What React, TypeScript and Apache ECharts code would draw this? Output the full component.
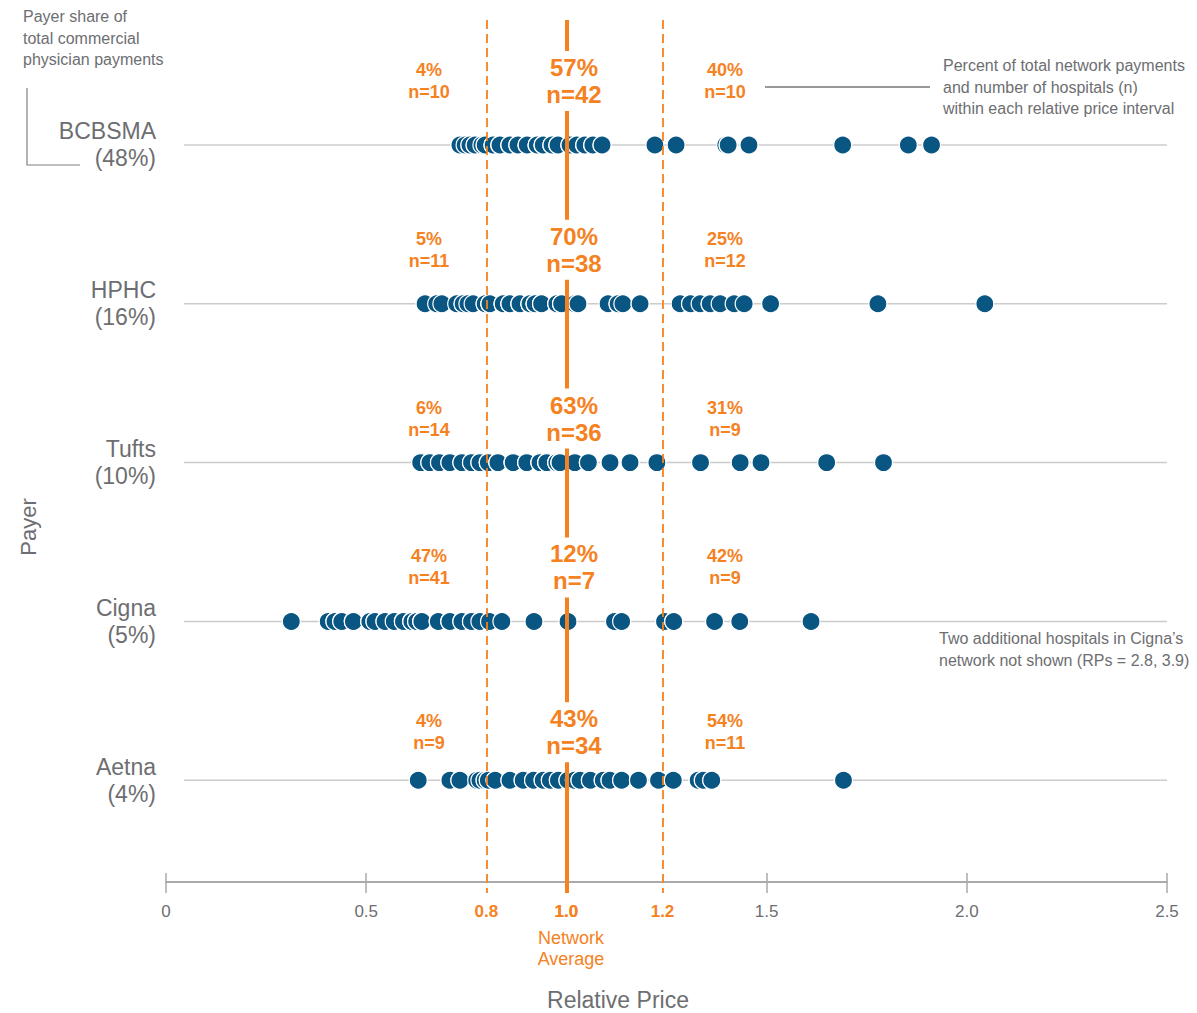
import React, { useEffect, useRef } from 'react';
import * as echarts from 'echarts';

// ---------- data ----------
const payers = ['BCBSMA', 'HPHC', 'Tufts', 'Cigna', 'Aetna'];
const payerShares = ['48%', '16%', '10%', '5%', '4%'];

// relative prices of each hospital in the payer's network (overlapping dots repeat values)
const bcbsmaRP = [
  0.734, 0.734, 0.747, 0.759, 0.759, 0.772, 0.772, 0.789, 0.797, 0.797,
  0.817, 0.817, 0.817, 0.834, 0.834, 0.834, 0.859, 0.859, 0.859, 0.879, 0.879, 0.879,
  0.902, 0.902, 0.902, 0.927, 0.927, 0.927, 0.942, 0.942, 0.942, 0.964, 0.964, 0.964,
  0.979, 0.979, 0.979, 1.009, 1.009, 1.009, 1.026, 1.026, 1.026, 1.046, 1.046, 1.046,
  1.066, 1.066, 1.066, 1.089, 1.089, 1.221,
  1.274, 1.398, 1.404, 1.404, 1.456, 1.456, 1.69, 1.69, 1.854, 1.912,
];
const hphcRP = [
  0.647, 0.647, 0.676, 0.689, 0.726, 0.742, 0.742, 0.754, 0.767, 0.797, 0.797,
  0.809, 0.809, 0.809, 0.842, 0.842, 0.842, 0.859, 0.859, 0.859, 0.884, 0.884, 0.884,
  0.909, 0.909, 0.909, 0.922, 0.922, 0.922, 0.938, 0.938, 0.938, 0.976, 0.976, 0.976,
  0.988, 0.988, 0.988, 1.021, 1.021, 1.029, 1.029, 1.104, 1.104, 1.129, 1.129, 1.141,
  1.184, 1.184,
  1.284, 1.31, 1.31, 1.334, 1.359, 1.359, 1.384, 1.419, 1.444, 1.51, 1.778, 2.045,
];
const tuftsRP = [
  0.636, 0.636, 0.659, 0.659, 0.683, 0.683, 0.709, 0.709, 0.739, 0.739, 0.763, 0.763, 0.784, 0.784,
  0.805, 0.805, 0.805, 0.829, 0.829, 0.829, 0.867, 0.867, 0.867, 0.901, 0.901, 0.901,
  0.934, 0.934, 0.934, 0.951, 0.951, 0.951, 0.976, 0.976, 0.976, 0.984, 0.984, 0.984,
  1.021, 1.021, 1.021, 1.055, 1.055, 1.055, 1.109, 1.109, 1.159, 1.159, 1.226, 1.226,
  1.335, 1.335, 1.434, 1.434, 1.486, 1.65, 1.65, 1.792, 1.792,
];
const cignaRP = [
  0.313, 0.405, 0.405, 0.405, 0.422, 0.422, 0.439, 0.439, 0.468, 0.468, 0.468,
  0.509, 0.509, 0.509, 0.522, 0.522, 0.547, 0.547, 0.57, 0.593, 0.593, 0.593,
  0.614, 0.614, 0.614, 0.626, 0.626, 0.639, 0.639, 0.639, 0.68, 0.68, 0.68,
  0.709, 0.709, 0.709, 0.739, 0.739, 0.763, 0.763, 0.784,
  0.808, 0.839, 0.919, 1.004, 1.004, 1.12, 1.138,
  1.245, 1.268, 1.268, 1.37, 1.37, 1.433, 1.611,
];
const cignaNotShownRP = [2.8, 3.9];
const aetnaRP = [
  0.63, 0.709, 0.709, 0.734, 0.734, 0.776, 0.784, 0.797, 0.797,
  0.805, 0.805, 0.822, 0.822, 0.859, 0.859, 0.892, 0.892, 0.918, 0.918, 0.942, 0.942,
  0.96, 0.96, 0.98, 0.98, 1.004, 1.004, 1.02, 1.02, 1.034, 1.034, 1.06, 1.06,
  1.092, 1.092, 1.109, 1.109, 1.138, 1.138, 1.18, 1.18, 1.23, 1.23,
  1.267, 1.267, 1.329, 1.329, 1.342, 1.342, 1.363, 1.363, 1.692, 1.692, 1.692,
];
const rpByPayer = [bcbsmaRP, hphcRP, tuftsRP, cignaRP, aetnaRP];

const belowPct = ['4%', '5%', '6%', '47%', '4%'];
const belowN = [10, 11, 14, 41, 9];
const withinPct = ['57%', '70%', '63%', '12%', '43%'];
const withinN = [42, 38, 36, 7, 34];
const abovePct = ['40%', '25%', '31%', '42%', '54%'];
const aboveN = [10, 12, 9, 9, 11];

const xTickValues = [0, 0.5, 1.0, 1.5, 2.0, 2.5];
// reference lines: position as drawn in the original, and its label
const refLines = [
  { at: 0.8, label: '0.8', dashed: true },
  { at: 1.0, label: '1.0', dashed: false },
  { at: 1.24, label: '1.2', dashed: true },
];

// ---------- style / layout ----------
const FONT = "'Liberation Sans', Arial, Helvetica, sans-serif";
const GREY = '#6d6e71';
const ORANGE = '#f5821f';
const BLUE = '#0a5683';
const BAND_LABEL_X = [0.657, 1.019, 1.396];
const BAND_LABEL_DY = [-64, -54, -44, -54, -48];
const ROW_LINE_START = 0.045;

export default function App() {
  const ref = useRef<HTMLDivElement>(null);

  useEffect(() => {
    const chart = echarts.init(ref.current!, null, { renderer: 'svg' });

    const xLabelFormatter = (v: number) => {
      const r = refLines.find((rl) => Math.abs(rl.at - v) < 1e-6);
      if (r) return `{o|${r.label}}`;
      return `{g|${v === 0 ? '0' : v.toFixed(1)}}`;
    };

    const rowLineSeries = payers.map((p, i) => ({
      type: 'line',
      name: 'row-' + p,
      data: [[ROW_LINE_START, i], [2.5, i]],
      symbol: 'none',
      silent: true,
      lineStyle: { color: '#cccccc', width: 1.5 },
      z: 1,
    }));

    const dotSeries = payers.map((p, i) => ({
      type: 'scatter',
      name: p,
      data: rpByPayer[i].map((v) => [v, i]),
      symbol: 'circle',
      symbolSize: 18,
      itemStyle: { color: BLUE, borderColor: '#ffffff', borderWidth: 1.2, opacity: 1 },
      z: 3,
    }));

    // [x, payer row, band (0 below, 1 within, 2 above)]
    const bandLabelData = payers.flatMap((p, i) => [0, 1, 2].map((b) => [BAND_LABEL_X[b], i, b]));
    const bandText = (row: number, band: number) => {
      if (band === 0) return `{s|${belowPct[row]}}\n{s|n=${belowN[row]}}`;
      if (band === 1) return `{b|${withinPct[row]}}\n{b|n=${withinN[row]}}`;
      return `{s|${abovePct[row]}}\n{s|n=${aboveN[row]}}`;
    };
    const richLabel = {
      s: { fill: ORANGE, fontSize: 18, fontWeight: 'bold', lineHeight: 22, fontFamily: FONT, align: 'center' },
      b: { fill: ORANGE, fontSize: 24, fontWeight: 'bold', lineHeight: 27, fontFamily: FONT, align: 'center' },
    };

    const option: any = {
      animation: false,
      backgroundColor: '#ffffff',
      textStyle: { fontFamily: FONT },
      grid: { left: 166, right: 30, top: 20, bottom: 120 },
      xAxis: [
        {
          type: 'value',
          min: 0,
          max: 2.5,
          interval: 0.5,
          offset: -11,
          position: 'bottom',
          axisLine: { show: true, onZero: false, lineStyle: { color: '#aaaaaa', width: 2 } },
          axisTick: {
            show: true,
            length: 11,
            customValues: xTickValues,
            lineStyle: { color: '#aaaaaa', width: 1.5 },
          },
          splitLine: { show: false },
          axisLabel: {
            customValues: [...xTickValues, ...refLines.map((r) => r.at)].sort((a, b) => a - b),
            margin: 19,
            formatter: xLabelFormatter,
            fontFamily: FONT,
            rich: {
              g: { color: GREY, fontSize: 17, lineHeight: 20, fontFamily: FONT, align: 'center' },
              o: { color: ORANGE, fontSize: 17, fontWeight: 'bold', lineHeight: 20, fontFamily: FONT, align: 'center' },
            },
          },
        },
        {
          type: 'value',
          min: 0,
          max: 2.5,
          interval: 0.5,
          offset: -11,
          position: 'bottom',
          axisLine: { show: false, onZero: false },
          axisTick: {
            show: true,
            inside: true,
            length: 9,
            customValues: xTickValues,
            lineStyle: { color: '#aaaaaa', width: 1.5 },
          },
          axisLabel: { show: false },
          splitLine: { show: false },
        },
      ],
      yAxis: {
        type: 'value',
        inverse: true,
        min: -0.787,
        max: 4.71,
        axisLine: { show: false, onZero: false },
        axisTick: { show: false },
        splitLine: { show: false },
        axisLabel: {
          customValues: payers.map((_, i) => i),
          margin: 10,
          formatter: (v: number) => `{a|${payers[v]}}\n{a|(${payerShares[v]})}`,
          rich: {
            a: { color: GREY, fontSize: 23, lineHeight: 27, fontFamily: FONT, align: 'right' },
          },
        },
      },
      series: [
        ...rowLineSeries,
        {
          type: 'line',
          name: 'network-average',
          data: [],
          z: 2,
          silent: true,
          markLine: {
            silent: true,
            symbol: ['none', 'none'],
            label: { show: false },
            lineStyle: { color: ORANGE, width: 4, type: 'solid' },
            data: refLines.filter((r) => !r.dashed).map((r) => ({ xAxis: r.at })),
          },
        },
        ...dotSeries,
        {
          type: 'line',
          name: 'band-edges',
          data: [],
          z: 4,
          silent: true,
          markLine: {
            silent: true,
            symbol: ['none', 'none'],
            label: { show: false },
            lineStyle: { color: ORANGE, width: 1.8, type: [9, 5] },
            data: refLines.filter((r) => r.dashed).map((r) => ({ xAxis: r.at })),
          },
        },
        {
          type: 'custom',
          name: 'band-labels',
          data: bandLabelData,
          z: 7,
          silent: true,
          clip: false,
          renderItem: (params: any, api: any) => {
            const row = api.value(1);
            const band = api.value(2);
            const pt = api.coord([api.value(0), row]);
            const style: any = {
              text: bandText(row, band),
              rich: richLabel,
              fill: ORANGE,
              align: 'center',
              verticalAlign: 'middle',
              fontFamily: FONT,
            };
            if (band === 1) {
              style.backgroundColor = '#ffffff';
              style.padding = [3, 5, 3, 5];
            }
            return {
              type: 'text',
              x: pt[0],
              y: pt[1] + BAND_LABEL_DY[row],
              style,
            };
          },
        },
      ],
      graphic: {
        elements: [
          {
            type: 'text',
            x: 23,
            y: 6,
            silent: true,
            style: {
              text: 'Payer share of\ntotal commercial\nphysician payments',
              fontSize: 16,
              lineHeight: 21.5,
              fill: GREY,
              fontFamily: FONT,
            },
          },
          {
            type: 'polyline',
            silent: true,
            shape: { points: [[27, 88], [27, 165], [80, 165]] },
            style: { stroke: '#808080', lineWidth: 1.2, fill: 'none' },
          },
          {
            type: 'line',
            silent: true,
            shape: { x1: 765, y1: 87, x2: 930, y2: 87 },
            style: { stroke: '#333333', lineWidth: 1 },
          },
          {
            type: 'text',
            x: 943,
            y: 55,
            silent: true,
            style: {
              text: 'Percent of total network payments\nand number of hospitals (n)\nwithin each relative price interval',
              fontSize: 16,
              lineHeight: 21.5,
              fill: GREY,
              fontFamily: FONT,
            },
          },
          {
            type: 'text',
            x: 939,
            y: 628,
            silent: true,
            style: {
              text: `Two additional hospitals in Cigna\u2019s\nnetwork not shown (RPs = ${cignaNotShownRP.join(', ')})`,
              fontSize: 16,
              lineHeight: 21.5,
              fill: GREY,
              fontFamily: FONT,
            },
          },
          {
            type: 'text',
            x: 571,
            y: 927,
            silent: true,
            style: {
              text: 'Network\nAverage',
              fontSize: 18,
              lineHeight: 21,
              fill: ORANGE,
              align: 'center',
              fontFamily: FONT,
            },
          },
          {
            type: 'text',
            x: 28,
            y: 527,
            rotation: Math.PI / 2,
            silent: true,
            style: {
              text: 'Payer',
              fontSize: 22,
              fill: GREY,
              align: 'center',
              verticalAlign: 'middle',
              fontFamily: FONT,
            },
          },
          {
            type: 'text',
            x: 618,
            y: 1000,
            silent: true,
            style: {
              text: 'Relative Price',
              fontSize: 23,
              fill: GREY,
              align: 'center',
              verticalAlign: 'middle',
              fontFamily: FONT,
            },
          },
        ],
      },
    };

    chart.setOption(option);
    return () => chart.dispose();
  }, []);

  return (
    <div
      ref={ref}
      style={{ position: 'fixed', left: 0, top: 0, width: 1197, height: 1013, background: '#fff' }}
    />
  );
}
